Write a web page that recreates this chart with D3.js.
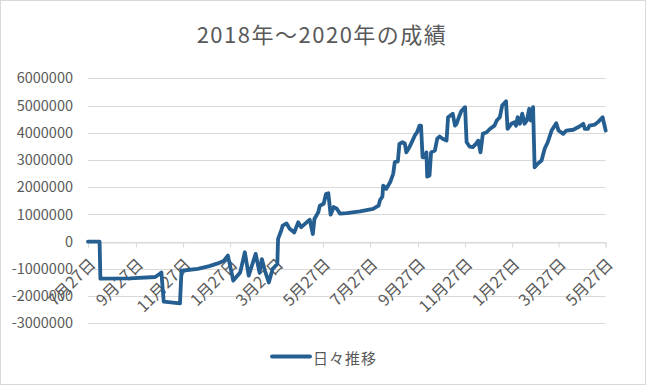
<!DOCTYPE html>
<html><head><meta charset="utf-8">
<script src="https://cdn.jsdelivr.net/npm/d3@7"></script>
<style>html,body{margin:0;padding:0;background:#fff;}svg{display:block;}</style>
</head><body>
<svg id="c" width="646" height="385"></svg>
<script>
const title = "2018年～2020年の成績";
const seriesName = "日々推移";
const dates = ["2018-07-27","2018-08-11","2018-08-12","2018-09-19","2018-10-22","2018-10-28","2018-10-30","2018-11-02","2018-11-23","2018-11-25","2018-12-16","2018-12-31","2019-01-11","2019-01-19","2019-01-24","2019-01-26","2019-01-31","2019-02-09","2019-02-15","2019-02-20","2019-03-01","2019-03-06","2019-03-09","2019-03-13","2019-03-18","2019-03-23","2019-03-29","2019-03-30","2019-04-03","2019-04-05","2019-04-10","2019-04-14","2019-04-20","2019-04-25","2019-04-29","2019-05-06","2019-05-10","2019-05-14","2019-05-16","2019-05-21","2019-05-23","2019-05-28","2019-05-31","2019-06-03","2019-06-06","2019-06-10","2019-06-14","2019-06-18","2019-06-27","2019-07-14","2019-07-31","2019-08-07","2019-08-09","2019-08-12","2019-08-13","2019-08-17","2019-08-22","2019-08-26","2019-08-28","2019-09-01","2019-09-03","2019-09-07","2019-09-10","2019-09-12","2019-09-16","2019-09-20","2019-09-23","2019-09-26","2019-09-29","2019-10-01","2019-10-03","2019-10-06","2019-10-08","2019-10-09","2019-10-12","2019-10-14","2019-10-19","2019-10-22","2019-10-25","2019-10-29","2019-11-03","2019-11-05","2019-11-11","2019-11-14","2019-11-16","2019-11-19","2019-11-22","2019-11-27","2019-11-29","2019-12-03","2019-12-07","2019-12-11","2019-12-14","2019-12-17","2019-12-20","2019-12-25","2019-12-29","2020-01-04","2020-01-07","2020-01-11","2020-01-14","2020-01-19","2020-01-21","2020-01-26","2020-01-30","2020-02-01","2020-02-03","2020-02-06","2020-02-09","2020-02-12","2020-02-15","2020-02-18","2020-02-20","2020-02-23","2020-02-25","2020-02-29","2020-03-05","2020-03-09","2020-03-13","2020-03-18","2020-03-24","2020-03-27","2020-04-02","2020-04-06","2020-04-15","2020-04-23","2020-04-28","2020-04-30","2020-05-04","2020-05-06","2020-05-13","2020-05-17","2020-05-23","2020-05-27"];
const values = [0,0,-1360000,-1350000,-1300000,-1180000,-1130000,-2200000,-2270000,-1070000,-1000000,-900000,-800000,-700000,-510000,-770000,-1430000,-1130000,-390000,-1250000,-450000,-1140000,-640000,-1070000,-1500000,-1000000,-820000,100000,400000,590000,670000,470000,340000,710000,530000,710000,800000,280000,830000,1080000,1320000,1390000,1750000,1780000,990000,1270000,1210000,1030000,1050000,1110000,1200000,1320000,1530000,1650000,2060000,1940000,2180000,2490000,2920000,2950000,3590000,3650000,3610000,3280000,3470000,3710000,3900000,4020000,4260000,4260000,3100000,3100000,3280000,2390000,2430000,3280000,3350000,3780000,3860000,3780000,3710000,4570000,4700000,4260000,4330000,4570000,4790000,4940000,3650000,3490000,3470000,3590000,3710000,3280000,3960000,4020000,4140000,4260000,4450000,4570000,5000000,5160000,4140000,4330000,4390000,4260000,4570000,4330000,4700000,4330000,4450000,4880000,4450000,4940000,2730000,2860000,2980000,3410000,3650000,4080000,4350000,4080000,3960000,4080000,4110000,4230000,4330000,4140000,4140000,4260000,4300000,4390000,4570000,4080000];
const yTicks = [-3000000,-2000000,-1000000,0,1000000,2000000,3000000,4000000,5000000,6000000];
const xTickDates = ["2018-07-27","2018-09-27","2018-11-27","2019-01-27","2019-03-27","2019-05-27","2019-07-27","2019-09-27","2019-11-27","2020-01-27","2020-03-27","2020-05-27"];

const parse = d3.utcParse("%Y-%m-%d");
const data = dates.map((d,i)=>({date:parse(d), value:values[i]}));
const svg = d3.select("#c");
const W=646,H=385;
const pLeft=88,pRight=605.7,pTop=78.3,pBottom=323.3;
const font = "'Noto Sans CJK JP','Noto Sans',sans-serif";
const grey = "#595959";

svg.append("rect").attr("x",0.5).attr("y",0.5).attr("width",W-1).attr("height",H-1)
  .attr("fill","#fff").attr("stroke","#d9d9d9");

const x = d3.scaleUtc().domain([parse(xTickDates[0]), parse(xTickDates[xTickDates.length-1])]).range([pLeft,pRight]);
const y = d3.scaleLinear().domain([-3000000,6000000]).range([pBottom,pTop]);

// gridlines
svg.append("g").selectAll("line").data(yTicks).join("line")
  .attr("x1",pLeft).attr("x2",pRight)
  .attr("y1",d=>Math.round(y(d))+0.5).attr("y2",d=>Math.round(y(d))+0.5)
  .attr("stroke","#d9d9d9").attr("stroke-width",1);

// y axis labels
const yAxis = d3.axisLeft(y).tickValues(yTicks).tickSize(0).tickPadding(0).tickFormat(d=>String(d));
const gy = svg.append("g").attr("transform",`translate(${pLeft-15},0)`).call(yAxis);
gy.select(".domain").remove();
gy.selectAll("text").attr("font-family",font).attr("font-size",14.5).attr("fill",grey);

// x axis at 0
const x0 = Math.round(y(0))+0.5;
const xAxis = d3.axisBottom(x).tickValues(xTickDates.map(parse)).tickSize(5).tickPadding(0)
  .tickFormat(d=>`${d.getUTCMonth()+1}月${d.getUTCDate()}日`);
const gx = svg.append("g").attr("transform",`translate(0,${x0})`).call(xAxis);
gx.select(".domain").attr("stroke","#d9d9d9");
gx.selectAll(".tick line").attr("stroke","#d9d9d9");
gx.selectAll("text")
  .attr("font-family",font).attr("font-size",16).attr("fill",grey)
  .attr("text-anchor","end").attr("dy",null).attr("y",null)
  .attr("dominant-baseline","central")
  .attr("transform","translate(3,18) rotate(-45)");

// line
const line = d3.line().x(d=>x(d.date)).y(d=>y(d.value));
svg.append("path").datum(data).attr("d",line)
  .attr("fill","none").attr("stroke","#255e91").attr("stroke-width",3.8)
  .attr("stroke-linejoin","round").attr("stroke-linecap","round");

// title
svg.append("text").attr("x",322).attr("y",43).attr("text-anchor","middle")
  .attr("font-family",font).attr("font-size",22).attr("letter-spacing",1.5).attr("fill",grey).text(title);

// legend
svg.append("line").attr("x1",272).attr("x2",310).attr("y1",356.5).attr("y2",356.5)
  .attr("stroke","#255e91").attr("stroke-width",3.8).attr("stroke-linecap","round");
svg.append("text").attr("x",313).attr("y",357).attr("dominant-baseline","central")
  .attr("font-family",font).attr("font-size",15).attr("letter-spacing",1).attr("fill",grey).text(seriesName);
</script>
</body></html>
